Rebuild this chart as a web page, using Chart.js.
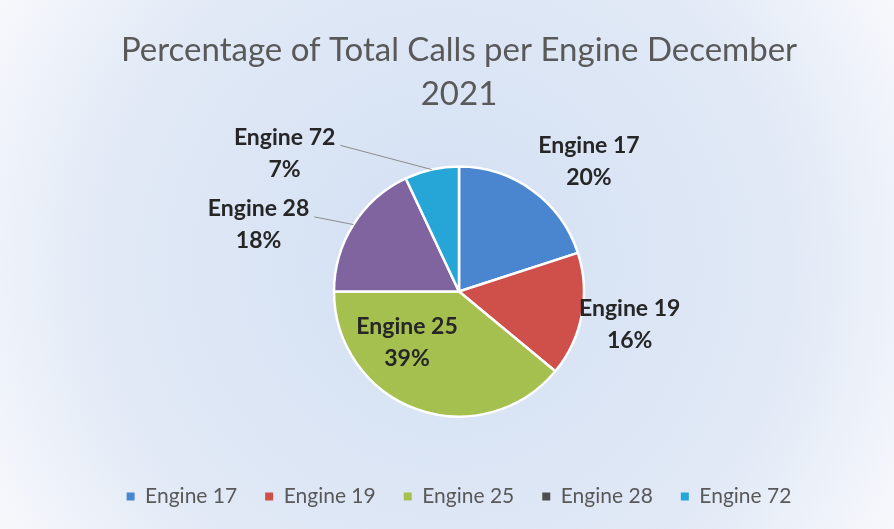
<!DOCTYPE html>
<html>
<head>
<meta charset="utf-8">
<script src="https://cdn.jsdelivr.net/npm/chart.js@4"></script>
<style>
  html, body { margin: 0; padding: 0; background: #fff; }
  #wrap { width: 894px; height: 529px; }
</style>
</head>
<body>
<div id="wrap"><canvas id="pieChart"></canvas></div>
<script>
/* Percentage of calls per engine - pie */
const engines = ['Engine 17', 'Engine 19', 'Engine 25', 'Engine 28', 'Engine 72'];
const callShare = [20, 16, 39, 18, 7];
const titleLines = ['Percentage of Total Calls per Engine December', '2021'];

const sliceColors = ['#4a86d0', '#cf4f4b', '#a5c04e', '#7f64a0', '#25a6d7'];
const legendColors = ['#4a86d0', '#cf4f4b', '#a5c04e', '#4d4d4d', '#25a6d7'];

// where each label sits: angle shift (deg) from slice middle, distance as share of radius
const labelPlace = [
  { shift: 9, dist: 1.47, leader: false },
  { shift: 0, dist: 1.39, leader: false },
  { shift: 26, dist: 0.58, leader: false },
  { shift: -14, dist: 1.69, leader: true },
  { shift: -39, dist: 1.78, leader: true }
];

const bgPlugin = {
  id: 'bgPlugin',
  beforeDraw(chart) {
    const { ctx, width, height } = chart;
    ctx.save();
    const g = ctx.createRadialGradient(width / 2, height / 2, 20, width / 2, height / 2, width * 0.62);
    g.addColorStop(0, '#d3e0f3');
    g.addColorStop(0.6, '#e1e9f6');
    g.addColorStop(1, '#fbfbfd');
    ctx.fillStyle = g;
    ctx.fillRect(0, 0, width, height);
    ctx.restore();
  }
};

const sliceLabels = {
  id: 'sliceLabels',
  afterDatasetsDraw(chart) {
    const ctx = chart.ctx;
    const meta = chart.getDatasetMeta(0);
    ctx.save();
    ctx.font = 'bold 23px Lato, "Open Sans", sans-serif';
    ctx.fillStyle = '#262626';
    ctx.textAlign = 'center';
    ctx.textBaseline = 'middle';
    meta.data.forEach((arc, i) => {
      const p = arc.getProps(['x', 'y', 'startAngle', 'endAngle', 'outerRadius'], true);
      const mid = (p.startAngle + p.endAngle) / 2;
      const a = mid + labelPlace[i].shift * Math.PI / 180;
      const d = p.outerRadius * labelPlace[i].dist;
      const cx = p.x + Math.cos(a) * d, cy = p.y + Math.sin(a) * d;
      const l1 = engines[i], l2 = callShare[i] + '%';
      if (labelPlace[i].leader) {
        const w = ctx.measureText(l1).width;
        ctx.strokeStyle = '#8c8c8c';
        ctx.lineWidth = 1;
        ctx.beginPath();
        ctx.moveTo(cx + w / 2 + 5, cy - 8);
        ctx.lineTo(p.x + Math.cos(mid) * p.outerRadius, p.y + Math.sin(mid) * p.outerRadius);
        ctx.stroke();
      }
      ctx.fillText(l1, cx, cy - 16);
      ctx.fillText(l2, cx, cy + 16);
    });
    ctx.restore();
  }
};

new Chart(document.getElementById('pieChart'), {
  type: 'pie',
  data: {
    labels: engines,
    datasets: [{ data: callShare, backgroundColor: sliceColors, borderColor: '#ffffff', borderWidth: 2.5 }]
  },
  options: {
    responsive: true, maintainAspectRatio: false, animation: false,
    radius: 125,
    layout: { padding: { left: 24, right: 0, top: 0, bottom: 12 } },
    plugins: {
      title: {
        display: true, text: titleLines, color: '#595959',
        font: { family: 'Lato, "Open Sans", sans-serif', size: 33, weight: 'normal', lineHeight: 1.35 },
        padding: { top: 28, bottom: 8 }
      },
      legend: {
        position: 'bottom',
        labels: {
          color: '#595959', boxWidth: 8, boxHeight: 8, padding: 28,
          font: { family: 'Lato, "Open Sans", sans-serif', size: 21 },
          generateLabels(chart) {
            return engines.map((name, i) => ({
              text: name, fillStyle: legendColors[i], strokeStyle: legendColors[i],
              lineWidth: 0, hidden: false, index: i, fontColor: '#595959'
            }));
          }
        }
      },
      tooltip: { enabled: false }
    }
  },
  plugins: [bgPlugin, sliceLabels]
});
</script>
</body>
</html>
